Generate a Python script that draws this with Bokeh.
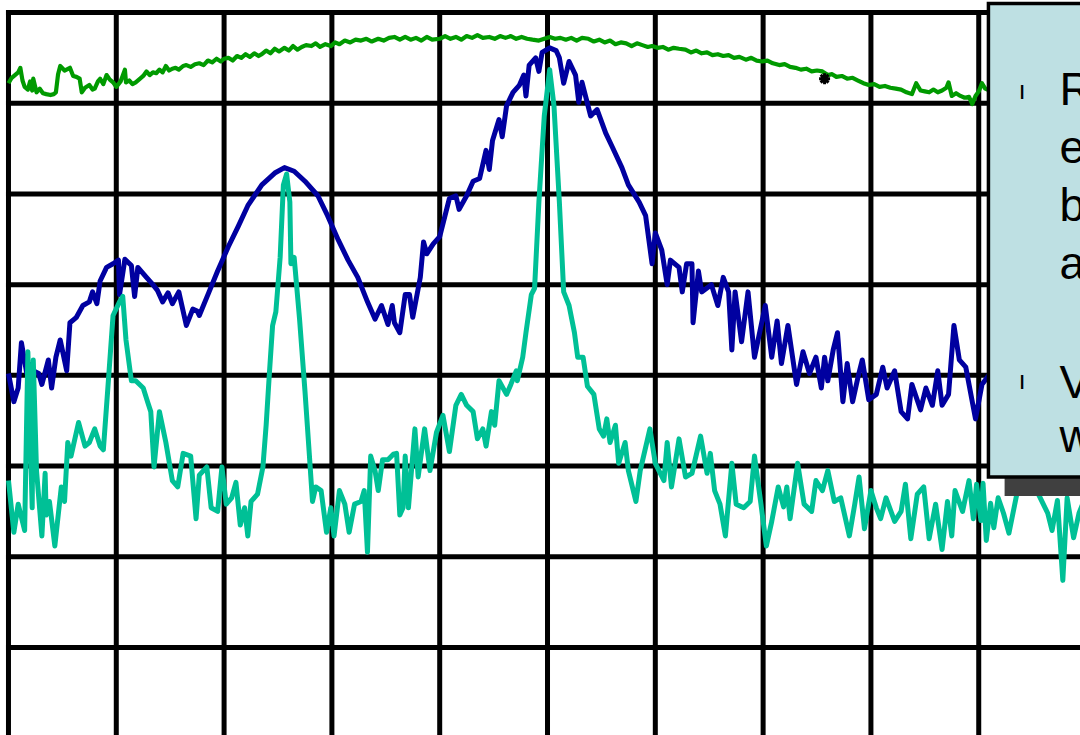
from bokeh.plotting import figure
from bokeh.embed import file_html
from bokeh.resources import INLINE
from bokeh.core.properties import value

# Spectrum-analyser style screen: 10 horizontal divisions, 8 vertical divisions,
# reference level 0 dB at the top, 10 dB / division.
freq_divisions = list(range(0, 11))
level_lines_db = [0, -10, -20, -30, -40, -50, -60, -70, -80]

# (frequency in divisions, level in dB)
green_trace = [
    (0.00, -7.8), (0.03, -7.2), (0.06, -6.9), (0.09, -6.6), (0.11, -6.1), (0.13, -7.5),
    (0.15, -8.2), (0.18, -8.5), (0.20, -7.6), (0.22, -8.6), (0.23, -7.3), (0.26, -8.8),
    (0.29, -8.4), (0.32, -8.9), (0.35, -9.0), (0.39, -9.1), (0.42, -9.0), (0.44, -8.8),
    (0.46, -6.8), (0.48, -5.9), (0.52, -6.4), (0.57, -6.1), (0.60, -7.0), (0.63, -7.1),
    (0.66, -7.3), (0.68, -8.8), (0.71, -8.3), (0.75, -8.0), (0.78, -8.5), (0.80, -8.4),
    (0.83, -7.6), (0.85, -7.3), (0.88, -7.9), (0.91, -6.9), (0.94, -7.4), (0.97, -7.7),
    (1.00, -8.2), (1.04, -7.6), (1.08, -6.3), (1.09, -7.7), (1.12, -7.5), (1.15, -7.9),
    (1.18, -7.7), (1.21, -7.4), (1.25, -7.0), (1.28, -6.5), (1.31, -6.9), (1.34, -6.6),
    (1.37, -6.7), (1.40, -6.3), (1.43, -6.6), (1.46, -5.9), (1.49, -6.4), (1.52, -6.2),
    (1.55, -6.1), (1.58, -6.3), (1.62, -5.9), (1.65, -5.8), (1.69, -6.0), (1.73, -5.7),
    (1.77, -5.6), (1.81, -5.8), (1.85, -5.3), (1.89, -5.5), (1.93, -5.1), (1.97, -5.4),
    (2.00, -5.1), (2.04, -5.0), (2.08, -5.3), (2.12, -4.8), (2.16, -5.0), (2.20, -4.6),
    (2.24, -4.9), (2.28, -4.5), (2.32, -4.8), (2.35, -4.6), (2.39, -4.2), (2.43, -4.5),
    (2.47, -4.0), (2.51, -4.3), (2.56, -3.9), (2.60, -4.2), (2.64, -3.7), (2.68, -4.1),
    (2.72, -3.8), (2.76, -3.6), (2.81, -3.7), (2.85, -3.4), (2.89, -3.8), (2.94, -3.5),
    (2.99, -3.7), (3.03, -3.3), (3.07, -3.5), (3.12, -3.1), (3.17, -3.3), (3.22, -3.0),
    (3.27, -3.1), (3.32, -2.9), (3.37, -3.2), (3.43, -2.9), (3.48, -3.1), (3.53, -2.8),
    (3.58, -2.7), (3.63, -3.0), (3.68, -2.7), (3.73, -3.0), (3.78, -2.8), (3.83, -3.1),
    (3.88, -2.7), (3.93, -3.0), (4.00, -2.9), (4.05, -2.6), (4.10, -2.9), (4.15, -2.7),
    (4.20, -3.0), (4.25, -2.6), (4.30, -2.8), (4.35, -2.5), (4.40, -2.8), (4.46, -2.7),
    (4.51, -2.9), (4.56, -2.6), (4.61, -2.8), (4.66, -2.6), (4.71, -2.9), (4.76, -2.7),
    (4.81, -2.9), (4.86, -3.0), (4.92, -3.1), (4.97, -2.9), (5.02, -2.7), (5.07, -2.9),
    (5.12, -2.8), (5.17, -3.0), (5.22, -2.8), (5.27, -3.1), (5.32, -2.8), (5.38, -2.9),
    (5.43, -3.2), (5.48, -3.0), (5.53, -3.3), (5.58, -3.1), (5.63, -3.5), (5.68, -3.3),
    (5.73, -3.4), (5.78, -3.7), (5.83, -3.4), (5.88, -3.6), (5.93, -3.8), (5.97, -3.7),
    (6.02, -3.9), (6.07, -3.8), (6.12, -4.1), (6.17, -3.9), (6.22, -4.0), (6.28, -4.1),
    (6.33, -4.4), (6.38, -4.2), (6.43, -4.5), (6.48, -4.4), (6.53, -4.7), (6.58, -4.6),
    (6.63, -4.8), (6.68, -4.7), (6.73, -5.0), (6.78, -4.9), (6.84, -5.2), (6.89, -5.0),
    (6.94, -5.3), (6.99, -5.4), (7.04, -5.3), (7.09, -5.6), (7.15, -5.8), (7.20, -5.7),
    (7.25, -6.0), (7.30, -6.1), (7.35, -6.3), (7.40, -6.2), (7.45, -6.5), (7.50, -6.4),
    (7.55, -6.5), (7.60, -6.9), (7.64, -6.8), (7.68, -7.1), (7.73, -7.0), (7.78, -7.3),
    (7.83, -7.2), (7.88, -7.5), (7.93, -7.8), (7.98, -8.0), (8.03, -7.9), (8.08, -8.2),
    (8.13, -8.1), (8.18, -8.3), (8.23, -8.4), (8.28, -8.5), (8.33, -8.8), (8.38, -9.0),
    (8.42, -7.8), (8.46, -8.6), (8.50, -8.7), (8.54, -8.8), (8.58, -8.5), (8.62, -8.8),
    (8.66, -8.6), (8.70, -8.3), (8.72, -7.7), (8.75, -9.2), (8.79, -8.9), (8.83, -9.2),
    (8.87, -9.4), (8.91, -9.3), (8.94, -10.1), (8.97, -9.2), (9.00, -8.7), (9.03, -7.8),
    (9.06, -8.4), (9.10, -8.6), (9.15, -8.8),
]

blue_trace = [
    (0.00, -39.8), (0.05, -42.9), (0.09, -41.4), (0.12, -36.4), (0.17, -39.8), (0.20, -38.8),
    (0.23, -39.5), (0.28, -39.8), (0.31, -41.0), (0.37, -38.3), (0.40, -41.4), (0.44, -38.0),
    (0.48, -36.1), (0.54, -39.5), (0.57, -34.2), (0.63, -33.6), (0.69, -32.3), (0.75, -31.9),
    (0.78, -30.8), (0.82, -32.1), (0.85, -29.6), (0.91, -28.1), (0.97, -27.7), (1.02, -27.3),
    (1.03, -31.1), (1.08, -27.2), (1.14, -27.9), (1.17, -31.3), (1.20, -28.1), (1.28, -29.2),
    (1.34, -30.0), (1.38, -30.6), (1.43, -31.9), (1.48, -30.9), (1.52, -32.1), (1.58, -30.8),
    (1.65, -34.5), (1.71, -32.7), (1.75, -32.9), (1.77, -33.4), (1.85, -31.1), (1.94, -28.5),
    (2.04, -25.8), (2.13, -23.6), (2.22, -21.3), (2.35, -19.0), (2.47, -17.7), (2.56, -17.1),
    (2.65, -17.5), (2.75, -18.6), (2.87, -20.2), (2.96, -22.4), (3.06, -25.1), (3.15, -27.3),
    (3.24, -29.2), (3.33, -31.9), (3.40, -33.8), (3.46, -32.3), (3.52, -34.4), (3.56, -32.3),
    (3.58, -34.2), (3.63, -35.3), (3.68, -31.1), (3.72, -31.1), (3.75, -33.6), (3.82, -29.2),
    (3.85, -25.3), (3.88, -26.6), (3.94, -25.5), (4.00, -24.7), (4.09, -20.5), (4.15, -20.2),
    (4.18, -21.7), (4.25, -20.2), (4.31, -18.6), (4.37, -18.3), (4.43, -15.2), (4.46, -17.3),
    (4.49, -14.1), (4.55, -11.8), (4.58, -13.7), (4.62, -10.3), (4.68, -8.8), (4.74, -8.0),
    (4.78, -6.9), (4.80, -9.2), (4.83, -5.8), (4.89, -5.0), (4.92, -6.5), (4.95, -4.4),
    (5.02, -3.9), (5.08, -4.2), (5.11, -5.0), (5.15, -7.8), (5.20, -5.4), (5.26, -6.9),
    (5.29, -9.9), (5.32, -7.7), (5.40, -11.4), (5.46, -10.7), (5.54, -13.3), (5.60, -14.8),
    (5.69, -17.1), (5.75, -19.0), (5.85, -20.9), (5.91, -22.4), (5.97, -27.7), (6.00, -24.3),
    (6.06, -26.2), (6.11, -30.0), (6.14, -27.3), (6.22, -28.1), (6.25, -30.8), (6.29, -27.7),
    (6.34, -27.7), (6.35, -34.2), (6.40, -28.5), (6.43, -30.8), (6.52, -30.0), (6.58, -32.3),
    (6.63, -29.2), (6.68, -30.8), (6.71, -37.2), (6.74, -30.8), (6.80, -36.3), (6.86, -30.8),
    (6.92, -38.0), (7.02, -32.3), (7.08, -38.0), (7.13, -34.0), (7.17, -38.7), (7.23, -34.5),
    (7.31, -41.0), (7.37, -37.4), (7.43, -39.8), (7.49, -38.0), (7.54, -41.4), (7.57, -38.0),
    (7.60, -40.6), (7.65, -37.2), (7.69, -35.3), (7.74, -42.9), (7.78, -38.7), (7.83, -42.9),
    (7.88, -40.2), (7.92, -38.3), (7.98, -42.7), (8.05, -42.1), (8.11, -39.1), (8.15, -41.4),
    (8.22, -39.5), (8.28, -44.0), (8.34, -44.8), (8.38, -41.0), (8.46, -43.8), (8.51, -41.4),
    (8.57, -43.3), (8.62, -39.5), (8.66, -43.3), (8.72, -42.1), (8.77, -34.5), (8.82, -38.3),
    (8.88, -39.1), (8.97, -44.8), (9.03, -41.0), (9.08, -40.2), (9.15, -39.0),
]

teal_trace = [
    (0.00, -51.6), (0.05, -57.3), (0.09, -54.2), (0.15, -57.1), (0.18, -37.4), (0.22, -54.6),
    (0.23, -38.3), (0.26, -50.5), (0.31, -57.7), (0.34, -50.8), (0.35, -55.4), (0.38, -53.9),
    (0.43, -58.8), (0.49, -52.3), (0.52, -53.9), (0.55, -47.4), (0.58, -48.9), (0.65, -45.2),
    (0.71, -47.8), (0.75, -47.4), (0.80, -45.9), (0.85, -47.8), (0.88, -48.2), (0.92, -41.7),
    (0.97, -33.4), (1.03, -31.9), (1.06, -31.3), (1.09, -36.1), (1.14, -40.6), (1.18, -40.6),
    (1.25, -41.4), (1.29, -42.9), (1.32, -44.0), (1.35, -50.1), (1.40, -44.0), (1.46, -47.4),
    (1.52, -51.6), (1.57, -52.3), (1.62, -48.6), (1.69, -48.9), (1.74, -55.8), (1.77, -51.0),
    (1.84, -50.1), (1.88, -54.6), (1.94, -55.0), (1.98, -50.1), (2.02, -54.2), (2.07, -53.5),
    (2.11, -51.8), (2.15, -56.5), (2.19, -54.6), (2.22, -57.7), (2.25, -53.9), (2.31, -53.1),
    (2.36, -50.1), (2.39, -45.5), (2.42, -39.8), (2.45, -34.5), (2.48, -33.0), (2.52, -27.0),
    (2.55, -19.0), (2.58, -17.8), (2.61, -20.9), (2.62, -27.7), (2.65, -27.0), (2.70, -33.8),
    (2.75, -41.7), (2.79, -48.6), (2.82, -53.9), (2.85, -52.3), (2.90, -52.7), (2.95, -57.3),
    (2.99, -54.6), (3.02, -57.7), (3.07, -52.7), (3.12, -54.2), (3.16, -57.3), (3.21, -54.2),
    (3.27, -53.9), (3.30, -52.7), (3.33, -59.5), (3.36, -48.9), (3.40, -50.5), (3.43, -52.7),
    (3.47, -49.3), (3.52, -49.3), (3.57, -48.7), (3.60, -48.6), (3.63, -55.4), (3.66, -54.6),
    (3.68, -48.9), (3.71, -54.6), (3.77, -45.9), (3.80, -51.2), (3.86, -45.9), (3.91, -50.5),
    (3.97, -46.3), (4.03, -44.4), (4.09, -48.4), (4.15, -43.3), (4.20, -42.1), (4.25, -43.3),
    (4.31, -44.0), (4.35, -47.0), (4.40, -45.9), (4.43, -47.8), (4.48, -44.0), (4.51, -45.5),
    (4.55, -40.6), (4.62, -42.1), (4.66, -41.0), (4.71, -39.5), (4.72, -40.6), (4.77, -38.0),
    (4.80, -35.3), (4.85, -31.1), (4.88, -30.4), (4.92, -20.9), (4.97, -11.4), (5.02, -6.3),
    (5.06, -10.3), (5.11, -20.9), (5.15, -30.8), (5.20, -32.3), (5.25, -35.3), (5.28, -38.0),
    (5.33, -38.0), (5.37, -41.2), (5.43, -42.1), (5.48, -45.9), (5.52, -46.7), (5.55, -44.8),
    (5.58, -47.4), (5.63, -45.5), (5.66, -49.7), (5.72, -47.4), (5.75, -50.5), (5.82, -53.9),
    (5.86, -50.5), (5.95, -45.9), (6.00, -49.7), (6.08, -51.6), (6.11, -47.4), (6.15, -52.3),
    (6.22, -47.0), (6.28, -51.2), (6.34, -50.8), (6.42, -46.7), (6.48, -50.8), (6.51, -48.6),
    (6.55, -52.7), (6.60, -54.2), (6.65, -57.7), (6.71, -49.7), (6.75, -54.2), (6.82, -54.6),
    (6.88, -53.9), (6.92, -48.9), (6.98, -54.2), (7.03, -58.8), (7.08, -56.1), (7.14, -52.3),
    (7.19, -54.5), (7.22, -52.3), (7.25, -55.8), (7.32, -49.7), (7.38, -54.2), (7.45, -55.0),
    (7.49, -51.6), (7.55, -52.7), (7.60, -50.5), (7.66, -53.9), (7.72, -53.5), (7.80, -57.7),
    (7.85, -54.2), (7.89, -51.2), (7.94, -56.9), (8.00, -52.7), (8.05, -54.6), (8.09, -55.8),
    (8.14, -53.5), (8.22, -56.1), (8.28, -55.0), (8.32, -52.0), (8.37, -58.0), (8.43, -53.1),
    (8.49, -52.3), (8.54, -58.0), (8.60, -54.2), (8.66, -59.2), (8.71, -53.9), (8.75, -57.7),
    (8.78, -52.7), (8.85, -55.0), (8.91, -51.6), (8.95, -55.8), (8.98, -52.0), (9.02, -56.0),
    (9.04, -51.9), (9.07, -58.2), (9.11, -54.1), (9.14, -56.8), (9.18, -53.5), (9.23, -55.2),
    (9.28, -57.4), (9.36, -52.7), (9.45, -51.8), (9.55, -53.0), (9.64, -55.2), (9.68, -57.1),
    (9.73, -53.8), (9.78, -62.6), (9.82, -53.5), (9.88, -57.9), (9.93, -55.2), (9.97, -54.0),
]

marker_point = [(7.57, -7.3)]

callout_letters = ["R", "e", "b", "a", "V", "w"]
callout_bullets = ["\u0131", "\u0131"]

green_x = [p[0] for p in green_trace]
green_y = [p[1] for p in green_trace]
blue_x = [p[0] for p in blue_trace]
blue_y = [p[1] for p in blue_trace]
teal_x = [p[0] for p in teal_trace]
teal_y = [p[1] for p in teal_trace]

p = figure(
    width=1080, height=735,
    x_range=(-0.074, 9.944), y_range=(-79.70, 1.32),
    x_axis_type=None, y_axis_type=None,
    toolbar_location=None, output_backend="svg",
    min_border=0, outline_line_color=None,
    background_fill_color="white", border_fill_color="white",
)
p.xgrid.visible = False
p.ygrid.visible = False

x_lo, x_hi = freq_divisions[0], freq_divisions[-1]
y_lo, y_hi = min(level_lines_db), max(level_lines_db)

# graticule
p.segment(x0=freq_divisions, x1=freq_divisions,
          y0=[y_lo] * len(freq_divisions), y1=[y_hi] * len(freq_divisions),
          line_color="black", line_width=5, line_cap="square")
p.segment(x0=[x_lo] * len(level_lines_db), x1=[x_hi] * len(level_lines_db),
          y0=level_lines_db, y1=level_lines_db,
          line_color="black", line_width=5, line_cap="square")

# traces
p.line(green_x, green_y, line_color="#009A00", line_width=4.2, line_join="round")
p.line(blue_x, blue_y, line_color="#0000A0", line_width=5, line_join="round")
p.line(teal_x, teal_y, line_color="#00C096", line_width=5, line_join="round")

p.scatter(x=[m[0] for m in marker_point], y=[m[1] for m in marker_point],
          marker="asterisk", size=11, line_color="black", line_width=3)

# callout box with shadow
p.quad(left=[9.24], right=[10.6], top=[-1.0], bottom=[-53.3],
       fill_color="#404040", line_color=None)
p.quad(left=[9.09], right=[10.6], top=[1.0], bottom=[-51.2],
       fill_color="#BEE0E3", line_color="black", line_width=3.5, line_join="miter")

letter_x = [9.75] * len(callout_letters)
letter_y = [-8.4, -14.8, -21.2, -27.6, -40.7, -46.7]
p.text(x=letter_x, y=letter_y, text=callout_letters,
       text_font=value("Liberation Sans"), text_font_size="46px",
       text_color="black", text_align="left", text_baseline="alphabetic")

p.text(x=[9.37, 9.37], y=[-8.6, -40.5], text=callout_bullets,
       text_font=value("Liberation Sans"), text_font_size="26px",
       text_color="black", text_align="left", text_baseline="alphabetic")

open("out.html", "w").write(file_html(p, INLINE))
